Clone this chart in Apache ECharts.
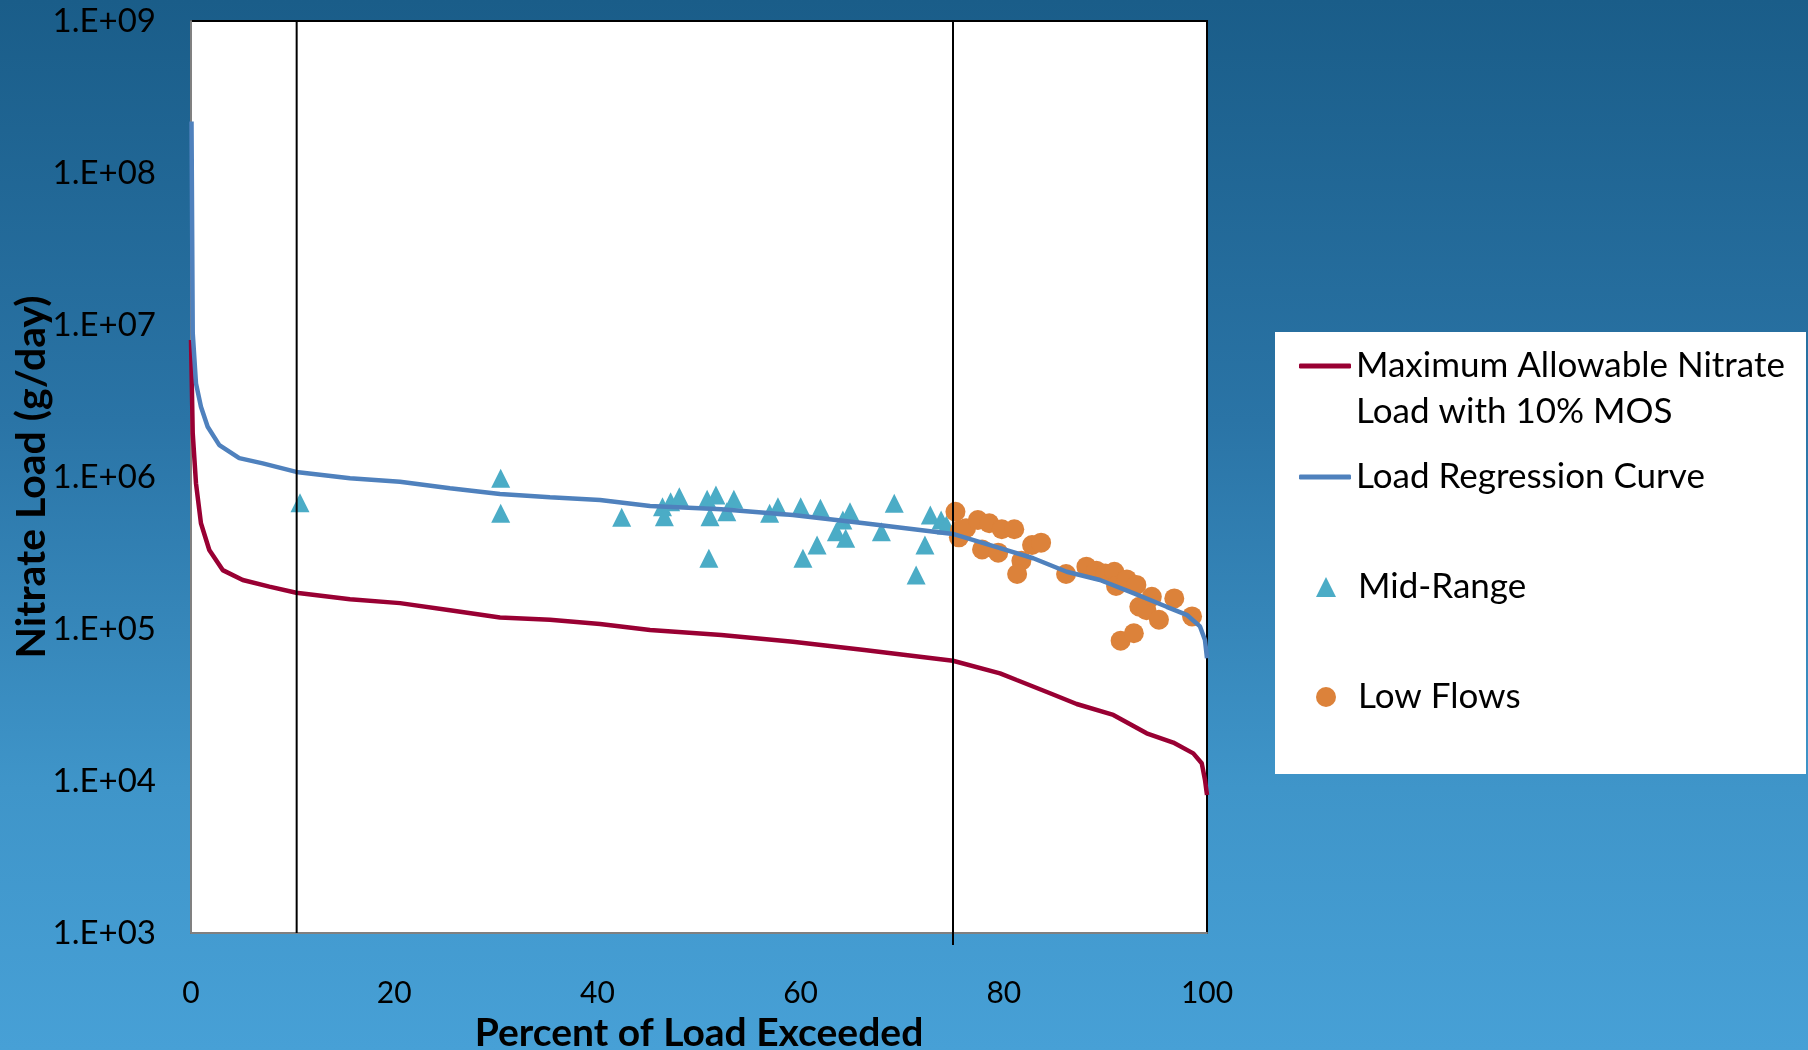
<!DOCTYPE html>
<html>
<head>
<meta charset="utf-8">
<script src="https://cdn.jsdelivr.net/npm/echarts@6/dist/echarts.min.js"></script>
<style>
  html, body { margin: 0; padding: 0; }
  #chart { width: 1808px; height: 1050px; background: linear-gradient(180deg, #1a5d89 0%, #2a74a6 40%, #3f95c9 75%, #47a0d6 100%); }
</style>
</head>
<body>
<div id="chart"></div>
<script>
// ---- Data ----
const xTicks = [0, 20, 40, 60, 80, 100];
const yTickLabels = ['1.E+03', '1.E+04', '1.E+05', '1.E+06', '1.E+07', '1.E+08', '1.E+09'];
// zone boundary lines: [x, value] end points
const zoneLineA = [[10.4, 1e3], [10.4, 1e9]];
const zoneLineB = [[75, 834], [75, 1e9]];

const seriesNames = ['Maximum Allowable Nitrate\nLoad with 10% MOS', 'Load Regression Curve', 'Mid-Range', 'Low Flows'];

const maxAllowX = [0, 0.17, 0.49, 0.98, 1.8, 3.12, 5.09, 7.71, 10.36, 15.65, 20.57, 25.49, 30.41, 35.33, 40.26, 45.18, 52.2, 59.24, 66.27, 74.99, 79.63, 81.27, 84.55, 87.17, 90.78, 94.06, 96.68, 98.65, 99.48, 99.8, 100];
const maxAllowY = [7.97e6, 1.94e6, 9.1e5, 4.96e5, 3.31e5, 2.44e5, 2.10e5, 1.90e5, 1.73e5, 1.57e5, 1.48e5, 1.33e5, 1.19e5, 1.15e5, 1.08e5, 9.85e4, 9.14e4, 8.25e4, 7.28e4, 6.18e4, 5.11e4, 4.62e4, 3.78e4, 3.21e4, 2.72e4, 2.06e4, 1.79e4, 1.52e4, 1.31e4, 1.02e4, 8.09e3];

const regX = [0.05, 0.17, 0.49, 0.98, 1.64, 2.79, 4.75, 7.06, 10.36, 15.65, 20.57, 25.49, 30.41, 35.33, 40.26, 45.18, 52.2, 59.24, 66.27, 74.99, 79.63, 82.9, 86.19, 89.47, 92.75, 96.03, 98.0, 99.31, 99.8, 100];
const regY = [2.18e8, 8.86e6, 4.13e6, 2.90e6, 2.14e6, 1.62e6, 1.33e6, 1.23e6, 1.08e6, 9.8e5, 9.31e5, 8.43e5, 7.73e5, 7.35e5, 7.06e5, 6.44e5, 6.13e5, 5.62e5, 4.96e5, 4.22e5, 3.40e5, 2.92e5, 2.38e5, 2.10e5, 1.72e5, 1.40e5, 1.24e5, 1.04e5, 8.47e4, 6.42e4];

const midX = [10.73, 30.48, 30.48, 42.39, 46.41, 46.59, 47.21, 48.06, 50.80, 50.97, 51.08, 51.67, 52.74, 53.43, 56.95, 57.77, 60.01, 60.23, 61.62, 61.95, 63.52, 64.16, 64.44, 64.86, 67.95, 69.22, 71.37, 72.24, 72.77, 73.83, 74.35];
const midY = [6.78e5, 9.8e5, 5.77e5, 5.43e5, 6.38e5, 5.48e5, 6.88e5, 7.42e5, 7.13e5, 2.92e5, 5.48e5, 7.62e5, 5.91e5, 7.13e5, 5.77e5, 6.38e5, 6.38e5, 2.92e5, 3.57e5, 6.22e5, 4.37e5, 5.21e5, 3.95e5, 5.91e5, 4.37e5, 6.71e5, 2.27e5, 3.57e5, 5.62e5, 5.21e5, 4.83e5];

const lowX = [75.24, 75.69, 75.58, 76.28, 77.45, 78.57, 79.80, 81.03, 77.86, 79.45, 81.73, 81.31, 82.78, 83.67, 86.13, 88.13, 89.11, 90.0, 90.88, 91.05, 92.11, 93.05, 93.34, 94.04, 94.57, 95.27, 96.78, 98.53, 91.5, 92.8];
const lowY = [5.91e5, 4.48e5, 4.01e5, 4.60e5, 5.21e5, 4.96e5, 4.53e5, 4.53e5, 3.34e5, 3.18e5, 2.81e5, 2.30e5, 3.57e5, 3.70e5, 2.30e5, 2.57e5, 2.42e5, 2.32e5, 2.38e5, 1.92e5, 2.12e5, 1.95e5, 1.40e5, 1.33e5, 1.63e5, 1.15e5, 1.59e5, 1.21e5, 8.38e4, 9.37e4];

const zip = (xs, ys) => xs.map((x, i) => [x, ys[i]]);

const FONT = 'Lato, "Open Sans", sans-serif';
const chart = echarts.init(document.getElementById('chart'), null, { renderer: 'canvas' });

const legendText = { fontFamily: FONT, fontSize: 35, lineHeight: 46, color: '#000' };

const option = {
  animation: false,
  backgroundColor: 'transparent',
  textStyle: { fontFamily: FONT },
  grid: {
    left: 191, top: 21, width: 1016, height: 912,
    outerBoundsMode: 'none', containLabel: false,
    show: true, backgroundColor: '#ffffff', borderColor: '#000000', borderWidth: 2
  },
  graphic: [{
    type: 'rect', left: 1275, top: 332, z: 0,
    shape: { width: 531, height: 442 },
    style: { fill: '#ffffff' }
  }],
  legend: [{
    data: [seriesNames[0], seriesNames[1]],
    orient: 'vertical', left: 1299, top: 297, padding: 0,
    icon: 'roundRect',
    itemWidth: 52, itemHeight: 5, itemGap: 19,
    formatter: name => (name === seriesNames[0] ? '\n' + name : name),
    textStyle: legendText
  }, {
    data: [seriesNames[2], seriesNames[3]],
    orient: 'vertical', left: 1316, top: 564, padding: 0,
    itemWidth: 20, itemHeight: 20, itemGap: 64,
    formatter: name => '{sp|}' + name,
    textStyle: Object.assign({}, legendText, { rich: { sp: { width: 17 } } })
  }],
  xAxis: {
    type: 'value', min: xTicks[0], max: xTicks[xTicks.length - 1], interval: 20,
    name: 'Percent of Load Exceeded', nameLocation: 'middle', nameGap: 81,
    nameTextStyle: { fontFamily: FONT, fontSize: 39, fontWeight: 'bold', color: '#000' },
    axisLine: { show: true, onZero: false, lineStyle: { color: '#808080', width: 2 } },
    axisTick: { show: false },
    splitLine: { show: false },
    axisLabel: { fontFamily: FONT, fontSize: 30, color: '#000', margin: 45 }
  },
  yAxis: {
    type: 'log', logBase: 10, min: 1e3, max: 1e9,
    name: 'Nitrate Load (g/day)', nameLocation: 'middle', nameGap: 139, nameMoveOverlap: false,
    nameTextStyle: { fontFamily: FONT, fontSize: 41, fontWeight: 'bold', color: '#000' },
    axisLine: { show: true, lineStyle: { color: '#808080', width: 2 } },
    axisTick: { show: false },
    splitLine: { show: false },
    axisLabel: {
      fontFamily: FONT, fontSize: 33, color: '#000', margin: 35,
      formatter: v => yTickLabels[Math.round(Math.log10(v)) - 3]
    }
  },
  series: [{
    name: seriesNames[0], type: 'line', data: zip(maxAllowX, maxAllowY),
    symbol: 'none', smooth: false,
    lineStyle: { color: '#990033', width: 4.5 }, itemStyle: { color: '#990033' }
  }, {
    name: seriesNames[1], type: 'line', data: zip(regX, regY),
    symbol: 'none', smooth: false,
    lineStyle: { color: '#4f81bd', width: 4.5 }, itemStyle: { color: '#4f81bd' }
  }, {
    name: seriesNames[2], type: 'scatter', data: zip(midX, midY),
    symbol: 'triangle', symbolSize: 19, itemStyle: { color: '#4bacc6', opacity: 1 }
  }, {
    name: seriesNames[3], type: 'scatter', data: zip(lowX, lowY),
    symbol: 'circle', symbolSize: 20, itemStyle: { color: '#dc823a', opacity: 1 }
  }, {
    name: 'zoneA', type: 'line', data: zoneLineA, symbol: 'none', silent: true,
    lineStyle: { color: '#000', width: 2 }
  }, {
    name: 'zoneB', type: 'line', data: zoneLineB, symbol: 'none', silent: true, clip: false,
    lineStyle: { color: '#000', width: 2 }
  }]
};
chart.setOption(option);
</script>
</body>
</html>
